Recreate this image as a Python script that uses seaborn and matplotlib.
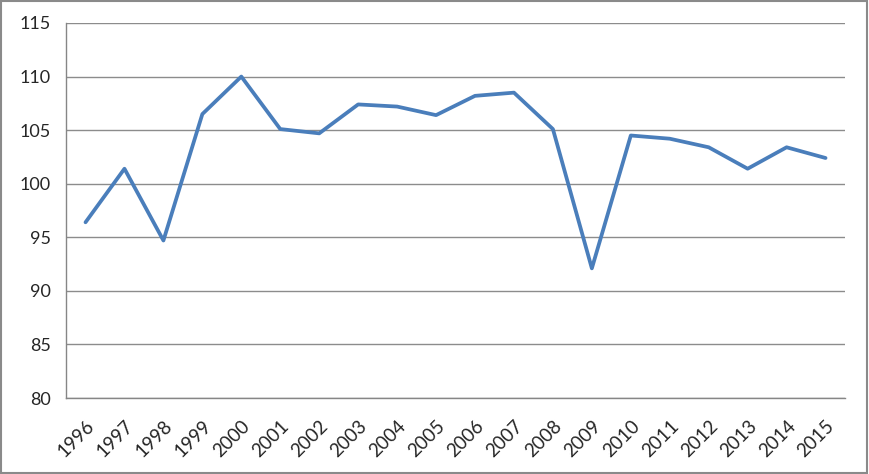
import numpy as np
import pandas as pd
import matplotlib
matplotlib.use('Agg')
import matplotlib.pyplot as plt
import seaborn as sns
from matplotlib.patches import Rectangle

years = ['1996', '1997', '1998', '1999', '2000', '2001', '2002', '2003', '2004', '2005',
         '2006', '2007', '2008', '2009', '2010', '2011', '2012', '2013', '2014', '2015']
values = [96.4, 101.4, 94.7, 106.5, 110.0, 105.1, 104.7, 107.4, 107.2, 106.4,
          108.2, 108.5, 105.1, 92.1, 104.5, 104.2, 103.4, 101.4, 103.4, 102.4]
y_ticks = [80, 85, 90, 95, 100, 105, 110, 115]

sns.set_style('white')
plt.rcParams['font.family'] = ['Lato', 'DejaVu Sans']

df = pd.DataFrame({'pos': np.arange(len(years)), 'value': values})

fig = plt.figure(figsize=(8.69, 4.74), dpi=100)
ax = fig.add_axes([0.076, 0.1603, 0.8964, 0.7912])

sns.lineplot(data=df, x='pos', y='value', ax=ax, color='#4A7EBB', linewidth=2.7)

ax.set_xlim(-0.5, len(years) - 0.5)
ax.set_ylim(80, 115)
ax.set_yticks(y_ticks)
ax.set_yticklabels([str(t) for t in y_ticks], fontsize=13)
ax.set_xticks(np.arange(len(years)))
ax.set_xticklabels(years, rotation=45, ha='right', rotation_mode='anchor', fontsize=13.5)
ax.set_xticks(np.arange(len(years) + 1) - 0.5, minor=True)
ax.tick_params(axis='x', which='major', length=0, pad=14)
ax.tick_params(axis='x', which='minor', length=5, color='#868686', width=1, direction='out')
ax.tick_params(axis='y', length=5, color='#868686', width=1, direction='out', pad=6)
ax.yaxis.grid(True, color='#8c8c8c', linewidth=1)
ax.set_axisbelow(True)
ax.set_xlabel('')
ax.set_ylabel('')
for s in ['top', 'right']:
    ax.spines[s].set_visible(False)
for s in ['left', 'bottom']:
    ax.spines[s].set_color('#868686')
    ax.spines[s].set_linewidth(1)

fig.patches.append(Rectangle((0.001, 0.002), 0.997, 0.995, transform=fig.transFigure,
                             fill=False, edgecolor='#8a8a8a', linewidth=1.5))

fig.savefig('out.png', dpi=100)
